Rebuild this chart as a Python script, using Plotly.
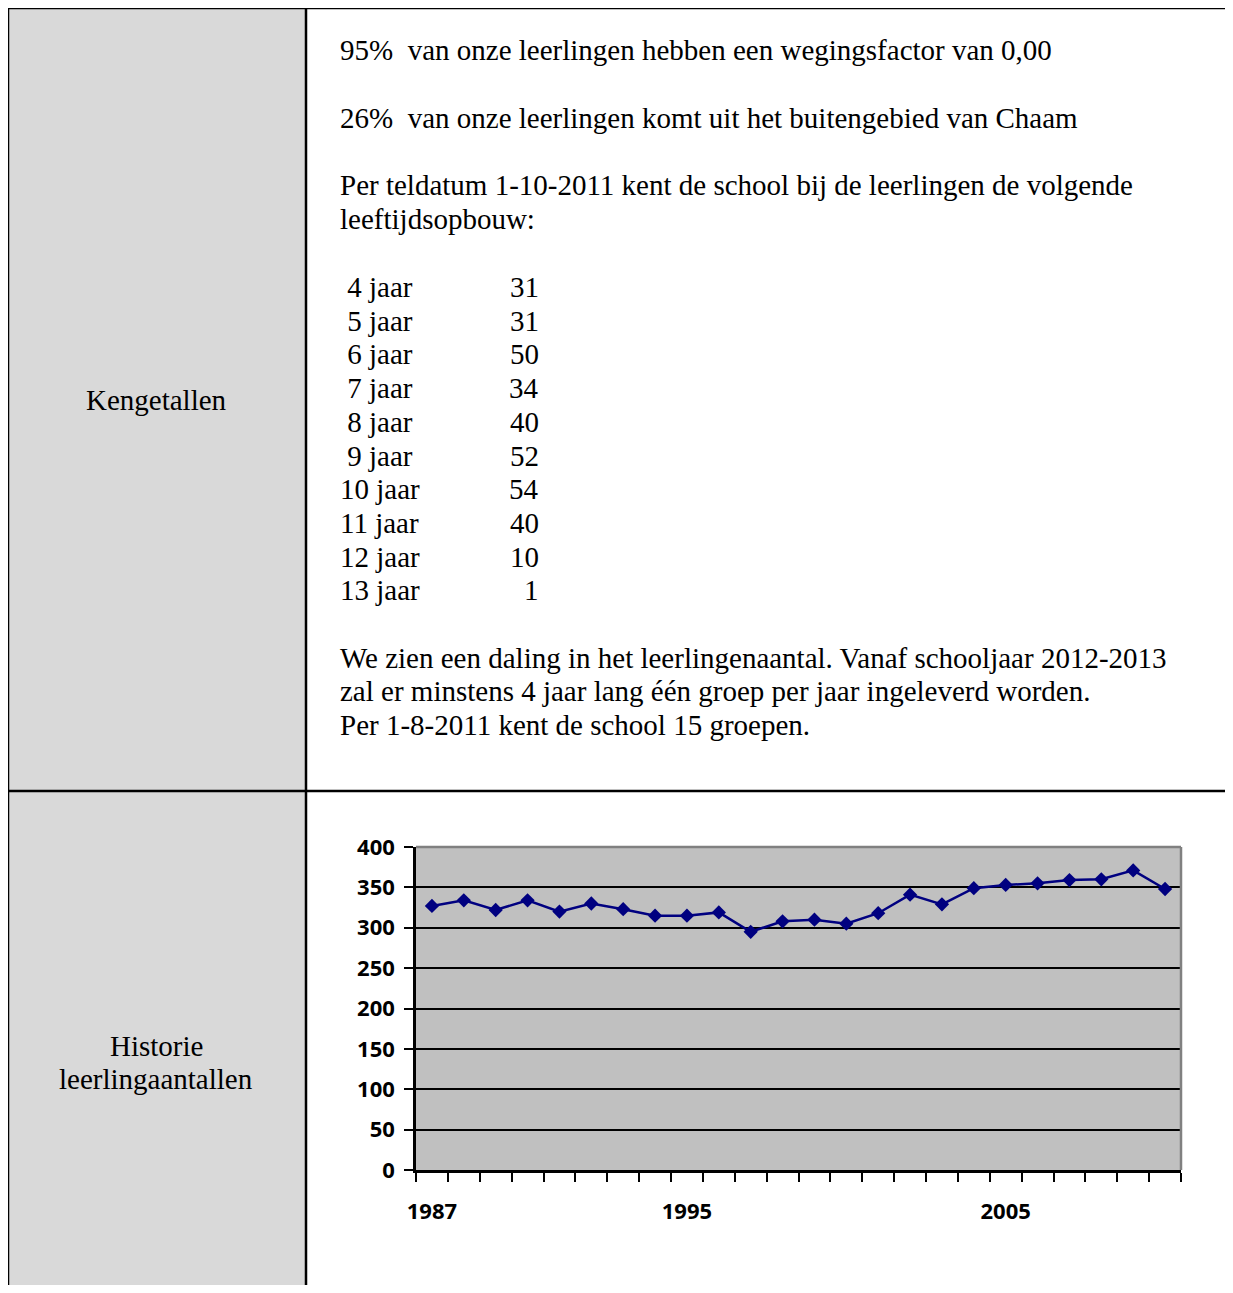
import plotly.graph_objects as go

# ---------------- data ----------------
years = list(range(1987, 2011))
students = [327, 334, 322, 334, 320, 330, 323, 315, 315, 319, 295, 308,
            310, 305, 318, 341, 329, 349, 353, 355, 359, 360, 371, 348]
year_labels = [1987, 1995, 2005]
y_ticks = [0, 50, 100, 150, 200, 250, 300, 350, 400]

ages = [4, 5, 6, 7, 8, 9, 10, 11, 12, 13]
age_counts = [31, 31, 50, 34, 40, 52, 54, 40, 10, 1]

row1_label = "Kengetallen"
row2_label = ["Historie", "leerlingaantallen"]
intro_lines = [
    "95%  van onze leerlingen hebben een wegingsfactor van 0,00",
    "26%  van onze leerlingen komt uit het buitengebied van Chaam",
    "Per teldatum 1-10-2011 kent de school bij de leerlingen de volgende",
    "leeftijdsopbouw:",
]
closing_lines = [
    "We zien een daling in het leerlingenaantal. Vanaf schooljaar 2012-2013",
    "zal er minstens 4 jaar lang één groep per jaar ingeleverd worden.",
    "Per 1-8-2011 kent de school 15 groepen.",
]

# ---------------- layout helpers (page pixels -> paper) ----------------
OX, OY = 8, 8          # body margin of the html page
W, H = 1225, 1277


def px(x):
    return (x - OX) / W


def py(y):
    return 1 - (y - OY) / H


SERIF = "Liberation Serif"
FS = 29

fig = go.Figure()

fig.add_trace(go.Scatter(
    x=years, y=students, mode="lines+markers",
    line=dict(color="#000080", width=2.5),
    marker=dict(symbol="diamond", size=11, color="#000080"),
    showlegend=False, hoverinfo="x+y",
))

shapes = []
# left column fill
shapes.append(dict(type="rect", xref="paper", yref="paper",
                   x0=px(8), x1=px(306), y0=py(8), y1=py(1300),
                   fillcolor="#d9d9d9", line=dict(width=0), layer="below"))
line_style = dict(color="black", width=2.5)
# table borders
shapes += [
    dict(type="line", xref="paper", yref="paper", x0=px(7), x1=px(1240), y0=py(8), y1=py(8), line=line_style),
    dict(type="line", xref="paper", yref="paper", x0=px(8), x1=px(8), y0=py(7), y1=py(1300), line=line_style),
    dict(type="line", xref="paper", yref="paper", x0=px(306), x1=px(306), y0=py(7), y1=py(1300), line=line_style),
    dict(type="line", xref="paper", yref="paper", x0=px(7), x1=px(1240), y0=py(791), y1=py(791), line=line_style),
]
# plot area top & right border (grey)
shapes += [
    dict(type="line", xref="x domain", yref="y domain", x0=0, x1=1, y0=1, y1=1,
         line=dict(color="#808080", width=2.5)),
    dict(type="line", xref="x domain", yref="y domain", x0=1, x1=1, y0=0, y1=1,
         line=dict(color="#808080", width=2.5)),
]

annotations = []


def txt(text, x, y, xanchor="left", size=FS):
    annotations.append(dict(text=text, x=px(x), y=py(y), xref="paper", yref="paper",
                            xanchor=xanchor, yanchor="middle", showarrow=False,
                            font=dict(family=SERIF, size=size, color="black")))


txt(row1_label, 156, 400, "center")
for line, yy in zip(row2_label, [1046, 1079]):
    txt(line, 156, yy, "center")

for line, yy in zip(intro_lines, [50, 118, 185, 219]):
    txt(line, 338, yy)

age_y0, age_dy = 287, 33.7
for i, (a, c) in enumerate(zip(ages, age_counts)):
    yy = age_y0 + i * age_dy
    lab = ("\u00a0" if a < 10 else "") + f"{a} jaar"
    txt(lab, 338, yy)
    txt(str(c), 541, yy, "right")

for line, yy in zip(closing_lines, [658, 691, 725]):
    txt(line, 338, yy)

tickfont = dict(family="Open Sans", size=22, color="black", weight="bold")

fig.update_layout(
    width=W, height=H,
    margin=dict(l=0, r=0, t=0, b=0, autoexpand=False),
    paper_bgcolor="white",
    plot_bgcolor="#c0c0c0",
    shapes=shapes,
    annotations=annotations,
    xaxis=dict(
        domain=[px(416), px(1181)],
        range=[1986.5, 2010.5],
        tickvals=year_labels,
        ticktext=[str(v) for v in year_labels],
        ticks="", showgrid=False, zeroline=False,
        showline=True, linecolor="black", linewidth=2.5,
        tickfont=tickfont, ticklabelstandoff=20,
        minor=dict(tick0=1986.5, dtick=1, ticks="outside", ticklen=9,
                   tickwidth=2, tickcolor="black", showgrid=False),
        fixedrange=True,
    ),
    yaxis=dict(
        domain=[py(1170), py(847)],
        range=[0, 400],
        tickvals=y_ticks,
        ticks="outside", ticklen=9, tickwidth=2, tickcolor="black",
        showgrid=True, gridcolor="black", gridwidth=2,
        zeroline=False,
        showline=True, linecolor="black", linewidth=2.5,
        tickfont=tickfont, ticklabelstandoff=5,
        fixedrange=True,
    ),
)

fig.write_html("out.html")
